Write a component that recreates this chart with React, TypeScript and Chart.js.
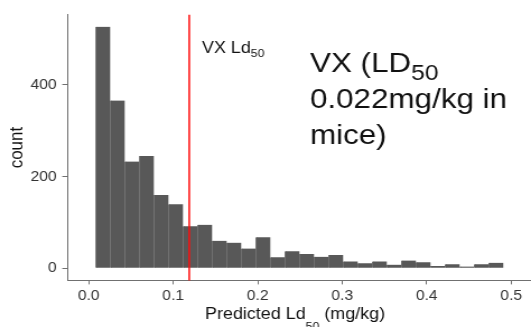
import React, { useEffect, useRef } from 'react';
import { Chart, registerables } from 'chart.js';

Chart.register(...registerables);

// ---- data ----
const binCenters = [
  0.016915, 0.034145, 0.051375, 0.068605, 0.085835, 0.103065, 0.120295,
  0.137525, 0.154755, 0.171985, 0.189215, 0.206445, 0.223675, 0.240905,
  0.258135, 0.275365, 0.292595, 0.309825, 0.327055, 0.344285, 0.361515,
  0.378745, 0.395975, 0.413205, 0.430435, 0.447665, 0.464895, 0.482125,
];
const counts = [
  527, 366, 233, 245, 160, 140, 92, 95, 60, 56, 43, 68, 24, 37,
  31, 25, 29, 15, 11, 15, 8, 17, 13, 5, 9, 4, 9, 12,
];
const xTickValues = [0, 0.1, 0.2, 0.3, 0.4, 0.5];
const yTickValues = [0, 200, 400];
const vxLd50 = 0.119;
const xLimits = [-0.0253, 0.5234];
const yLimits = [-26.35, 553.35];

// ---- layout / style ----
const W = 531;
const H = 327;
const CW = 474; // canvas bitmap width, stretched horizontally to W by CSS
const FAMILY = 'Liberation Sans';
const AXIS = '#707070';
const TICK = '#333333';
const INK = '#111111';

function font(size: number) {
  return `${size}px "${FAMILY}", Arial, sans-serif`;
}

function drawSub(ctx: CanvasRenderingContext2D, main: string, sub: string, x: number, y: number,
  size: number, subSize: number, drop: number, tail?: string) {
  ctx.font = font(size);
  ctx.fillText(main, x, y);
  let cx = x + ctx.measureText(main).width;
  ctx.font = font(subSize);
  ctx.fillText(sub, cx, y + drop);
  cx += ctx.measureText(sub).width;
  if (tail) {
    ctx.font = font(size);
    ctx.fillText(tail, cx, y);
  }
}

const annotations = {
  id: 'annotations',
  afterDatasetsDraw(chart: any) {
    const { ctx, chartArea, scales } = chart;
    const px = scales.x.getPixelForValue(vxLd50);
    ctx.save();
    ctx.strokeStyle = '#ff0d0d';
    ctx.lineWidth = 1.5;
    ctx.beginPath();
    ctx.moveTo(px, chartArea.top);
    ctx.lineTo(px, chartArea.bottom);
    ctx.stroke();

    ctx.fillStyle = INK;
    ctx.textAlign = 'left';
    ctx.textBaseline = 'alphabetic';
    drawSub(ctx, 'VX Ld', '50', px + 11.3, 52.7, 16, 11, 4);

    const bx = 276.7;
    drawSub(ctx, 'VX (LD', '50', bx, 71.7, 28, 22, 7.8);
    ctx.font = font(28);
    ctx.fillText('0.022mg/kg in', bx, 107.7);
    ctx.fillText('mice)', bx, 144.3);

    // x axis title
    drawSub(ctx, 'Predicted Ld', '50', 183, 319, 16, 11, 11, ' (mg/kg)');
    ctx.restore();
  },
};

export default function App() {
  const ref = useRef<HTMLCanvasElement>(null);
  useEffect(() => {
    const canvas = ref.current;
    if (!canvas) return;
    const chart = new Chart(canvas, {
      type: 'bar',
      data: {
        datasets: [
          {
            data: binCenters.map((c, i) => ({ x: c, y: counts[i] })),
            backgroundColor: '#585858',
            borderColor: '#666666',
            borderWidth: { left: 0.8, right: 0, top: 0, bottom: 0 } as any,
            borderSkipped: false,
            barPercentage: 1,
            categoryPercentage: 1,
          },
        ],
      },
      options: {
        animation: false,
        responsive: false,
        devicePixelRatio: 1,
        layout: { padding: { top: 14.7, right: 0, left: 0, bottom: 0 } },
        plugins: {
          legend: { display: false },
          tooltip: { enabled: false },
          title: { display: false },
        },
        scales: {
          x: {
            type: 'linear',
            min: xLimits[0],
            max: xLimits[1],
            bounds: 'data',
            offset: false,
            afterBuildTicks: (s: any) => {
              s.ticks = xTickValues.map((v) => ({ value: v }));
            },
            afterFit: (s: any) => {
              s.height = H - 280.4;
            },
            grid: {
              display: true,
              offset: false,
              drawOnChartArea: false,
              drawTicks: true,
              tickLength: 4,
              color: AXIS,
              tickColor: AXIS,
              lineWidth: 1,
            },
            border: { display: true, color: AXIS, width: 1 },
            ticks: {
              font: { family: FAMILY, size: 14 },
              color: TICK,
              padding: 3,
              maxRotation: 0,
              autoSkip: false,
              callback: (v: any) => Number(v).toFixed(1),
            },
          },
          y: {
            type: 'linear',
            min: yLimits[0],
            max: yLimits[1],
            bounds: 'data',
            afterBuildTicks: (s: any) => {
              s.ticks = yTickValues.map((v) => ({ value: v }));
            },
            afterFit: (s: any) => {
              s.width = 60.08;
            },
            grid: {
              display: true,
              drawOnChartArea: false,
              drawTicks: true,
              tickLength: 4.5,
              color: AXIS,
              tickColor: AXIS,
              lineWidth: 1,
            },
            border: { display: true, color: AXIS, width: 1 },
            ticks: {
              font: { family: FAMILY, size: 14 },
              color: TICK,
              padding: 5,
              autoSkip: false,
              callback: (v: any) => String(v),
            },
            title: {
              display: true,
              text: 'count',
              color: INK,
              font: { family: FAMILY, size: 17 },
              padding: { top: 4.7, bottom: 0 },
            },
          },
        },
      } as any,
      plugins: [annotations],
    });
    return () => chart.destroy();
  }, []);

  return (
    <div
      style={{
        position: 'fixed',
        left: 0,
        top: 0,
        width: W,
        height: H,
        background: '#ffffff',
        overflow: 'hidden',
      }}
    >
      <canvas
        ref={ref}
        width={CW}
        height={H}
        style={{ width: `${W}px`, height: `${H}px`, display: 'block' }}
      />
    </div>
  );
}
